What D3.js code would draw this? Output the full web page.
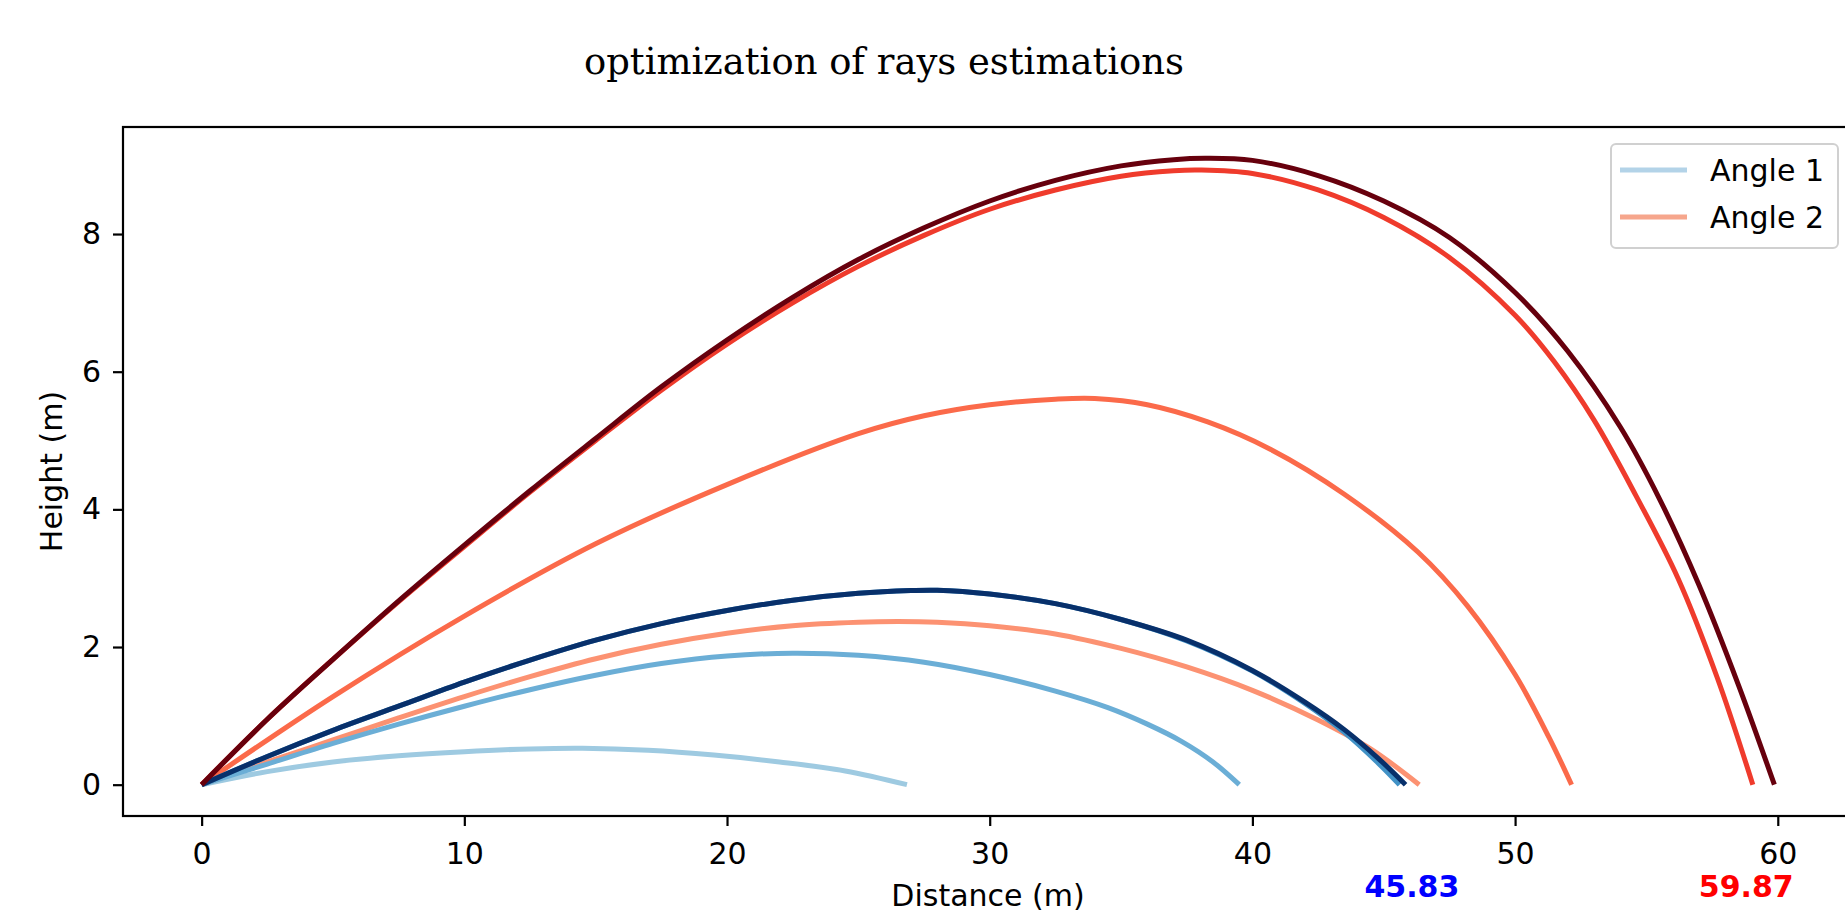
<!DOCTYPE html>
<html>
<head>
<meta charset="utf-8">
<script src="https://cdnjs.cloudflare.com/ajax/libs/d3/7.8.5/d3.min.js"></script>
<style>
  body { margin: 0; background: #ffffff; overflow: hidden; }
  svg { display: block; }
  text { font-family: "DejaVu Sans", sans-serif; fill: #000000; }
</style>
</head>
<body>
<script>
// Ray trajectories, [distance (m), height (m)]
// Angle 1 runs (blues), lightest first
var angle1Run1 = [[0,0],[2.5,0.19],[5,0.33],[7.5,0.42],[10,0.48],[12.5,0.52],[14.5,0.53],
                  [17,0.5],[19.5,0.43],[22,0.33],[24.5,0.2],[26.85,0]];
var angle1Run2 = [[0,0],[2.5,0.3],[5,0.6],[7.5,0.88],[10,1.14],[12.5,1.38],[15,1.59],
                  [17.5,1.76],[20,1.87],[22.5,1.91],[25,1.88],[27.5,1.78],[30,1.6],
                  [32.5,1.36],[34.5,1.12],[36,0.88],[37.3,0.63],[38.5,0.33],[39.5,0]];
var angle1Run3 = [[0,0],[2.5,0.41],[5,0.79],[7.5,1.14],[10,1.49],[12.5,1.81],[15,2.1],
                  [17.5,2.34],[20,2.53],[22.5,2.68],[25,2.78],[27,2.82],[28,2.825],
                  [30,2.77],[32.5,2.63],[35,2.4],[37.5,2.09],[40,1.65],[42,1.18],
                  [43.5,0.76],[44.8,0.31],[45.6,0]];
var angle1Run4 = [[0,0],[2.5,0.41],[5,0.79],[7.5,1.14],[10,1.49],[12.5,1.81],[15,2.1],
                  [17.5,2.34],[20,2.53],[22.5,2.68],[25,2.78],[27,2.82],[28,2.825],
                  [30,2.77],[32.5,2.63],[35,2.4],[37.5,2.1],[40,1.66],[42,1.2],
                  [43.5,0.8],[44.8,0.38],[45.83,0]];

// Angle 2 runs (reds), lightest first
var angle2Run1 = [[0,0],[2.5,0.33],[5,0.65],[7.5,0.97],[10,1.28],[12.5,1.57],[15,1.83],
                  [17.5,2.04],[20,2.2],[22.5,2.31],[25,2.36],[26.5,2.37],[28,2.36],
                  [30,2.31],[32.5,2.19],[35,1.98],[37.5,1.71],[40,1.37],[42.5,0.94],
                  [44.5,0.52],[46.35,0]];
var angle2Run2 = [[0,0],[5,1.28],[10,2.45],[15,3.5],[20,4.36],[25,5.1],[27.5,5.36],
                  [30,5.52],[32.5,5.6],[34,5.61],[36,5.52],[38.3,5.27],[40.7,4.87],
                  [43.5,4.22],[46.3,3.38],[48.2,2.59],[50,1.6],[51.3,0.68],[52.15,0]];
var angle2Run3 = [[0,0],[2.5,0.95],[5,1.82],[7.5,2.66],[10,3.46],[12.5,4.25],[15,5.0],
                  [17.5,5.73],[20,6.4],[22.5,7.0],[25,7.53],[27.5,7.98],[30,8.36],
                  [32.5,8.64],[35,8.84],[37,8.92],[38,8.93],[40,8.88],[42.5,8.64],
                  [45,8.24],[47.5,7.66],[50,6.82],[51.5,6.14],[53,5.3],[54.6,4.2],
                  [56.2,3.0],[57.7,1.55],[59.05,0]];
var angle2Run4 = [[0,0],[2.5,0.95],[5,1.82],[7.5,2.67],[10,3.48],[12.5,4.27],[15,5.03],
                  [17.5,5.78],[20,6.46],[22.5,7.08],[25,7.63],[27.5,8.09],[30,8.48],
                  [32.5,8.78],[35,8.99],[37,9.08],[38.2,9.1],[40,9.07],[42.5,8.85],
                  [45,8.48],[47.5,7.95],[50,7.15],[52,6.3],[54,5.2],[55.5,4.15],
                  [57,2.9],[58.5,1.45],[59.87,0]];

// plotting order as in the original (angle 1 then angle 2, run by run)
var rays = [angle1Run1, angle2Run1, angle1Run2, angle2Run2, angle1Run3, angle2Run3, angle1Run4, angle2Run4];
var rayColors = ["#9ecae1", "#fc9272", "#6baed6", "#fb6a4a", "#4292c6", "#ef3b2c", "#08306b", "#67000d"];

var xTicks = [0, 10, 20, 30, 40, 50, 60];
var yTicks = [0, 2, 4, 6, 8];

var legendLabels = ["Angle 1", "Angle 2"];
var legendColors = ["#b3d3e8", "#f6a68c"];

// final distances written under the axis
var resultLabels = ["45.83", "59.87"];
var resultAt = [46.07, 58.8];
var resultColors = ["#0000ff", "#ff0000"];

function drawChart(){

  var svgWidth = 1845, svgHeight = 923;
  var margin = { top: 127, right: -8, bottom: 107, left: 123 };
  var width = svgWidth - margin.left - margin.right;
  var height = svgHeight - margin.top - margin.bottom;

  var svg = d3.select("body")
              .append("svg")
              .attr("width", svgWidth)
              .attr("height", svgHeight);

  // matplotlib style limits: data range plus 5% on each side
  var xMax = d3.max(rays, function(r){ return d3.max(r, function(d){ return d[0]; }); });
  var yMax = d3.max(rays, function(r){ return d3.max(r, function(d){ return d[1]; }); });
  var xScale = d3.scaleLinear()
      .domain([-0.05 * xMax, 1.05 * xMax])
      .range([0, width]);
  var yScale = d3.scaleLinear()
      .domain([-0.05 * yMax, 1.05 * yMax])
      .range([height, 0]);

  // title
  svg.append("text")
     .attr("x", 884)
     .attr("y", 74)
     .attr("text-anchor", "middle")
     .attr("textLength", 600)
     .attr("lengthAdjust", "spacingAndGlyphs")
     .style("font-family", "'DejaVu Serif', serif")
     .style("font-size", "38px")
     .text("optimization of rays estimations");

  var g = svg.append("g")
             .attr("transform", "translate(" + margin.left + "," + margin.top + ")");

  // trajectories
  var line = d3.line()
      .x(function(d){ return xScale(d[0]); })
      .y(function(d){ return yScale(d[1]); })
      .curve(d3.curveCatmullRom.alpha(0.5));

  g.selectAll(".ray")
   .data(rays)
   .enter()
   .append("path")
   .attr("class", "ray")
   .attr("d", line)
   .attr("fill", "none")
   .attr("stroke", function(d, i){ return rayColors[i]; })
   .attr("stroke-width", 5)
   .attr("stroke-linecap", "butt");

  // frame
  g.append("rect")
   .attr("x", 0)
   .attr("y", 0)
   .attr("width", width)
   .attr("height", height)
   .attr("fill", "none")
   .attr("stroke", "#000")
   .attr("stroke-width", 2.2);

  // x axis
  var xAxis = g.append("g")
     .attr("transform", "translate(0," + height + ")")
     .call(d3.axisBottom(xScale).tickValues(xTicks).tickSize(10).tickPadding(17));

  // y axis
  var yAxis = g.append("g")
     .call(d3.axisLeft(yScale).tickValues(yTicks).tickSize(10).tickPadding(12));

  [xAxis, yAxis].forEach(function(ax){
    ax.select(".domain").remove();
    ax.selectAll("line").attr("stroke", "#000").attr("stroke-width", 2.2);
    ax.selectAll("text")
      .style("font-family", "'DejaVu Sans', sans-serif")
      .style("font-size", "30px")
      .attr("fill", "#000");
  });

  // axis labels
  svg.append("text")
     .attr("x", 988)
     .attr("y", 906)
     .attr("text-anchor", "middle")
     .style("font-size", "30px")
     .text("Distance (m)");

  svg.append("text")
     .attr("transform", "translate(62," + (margin.top + height / 2) + ") rotate(-90)")
     .attr("text-anchor", "middle")
     .style("font-size", "30px")
     .text("Height (m)");

  // final distances
  svg.selectAll(".result")
     .data(resultLabels)
     .enter()
     .append("text")
     .attr("class", "result")
     .attr("x", function(d, i){ return margin.left + xScale(resultAt[i]); })
     .attr("y", 897)
     .attr("text-anchor", "middle")
     .style("font-size", "30px")
     .style("font-weight", "bold")
     .style("fill", function(d, i){ return resultColors[i]; })
     .text(function(d){ return d; });

  // legend
  var legend = svg.append("g").attr("class", "legend");

  legend.append("rect")
        .attr("x", 1611)
        .attr("y", 144)
        .attr("width", 227)
        .attr("height", 104)
        .attr("rx", 5)
        .attr("fill", "#ffffff")
        .attr("fill-opacity", 0.8)
        .attr("stroke", "#d0d0d0")
        .attr("stroke-width", 2);

  legend.selectAll("g")
        .data(legendLabels)
        .enter()
        .append("g")
        .each(function(d, i){
          var row = d3.select(this);
          var rowY = 170 + i * 47;
          row.append("line")
             .attr("x1", 1620)
             .attr("x2", 1687)
             .attr("y1", rowY)
             .attr("y2", rowY)
             .attr("stroke", legendColors[i])
             .attr("stroke-width", 5);
          row.append("text")
             .attr("x", 1710)
             .attr("y", rowY + 11)
             .style("font-size", "30px")
             .text(d);
        });
}

window.onload = function() {
  drawChart();
};
</script>
</body>
</html>
